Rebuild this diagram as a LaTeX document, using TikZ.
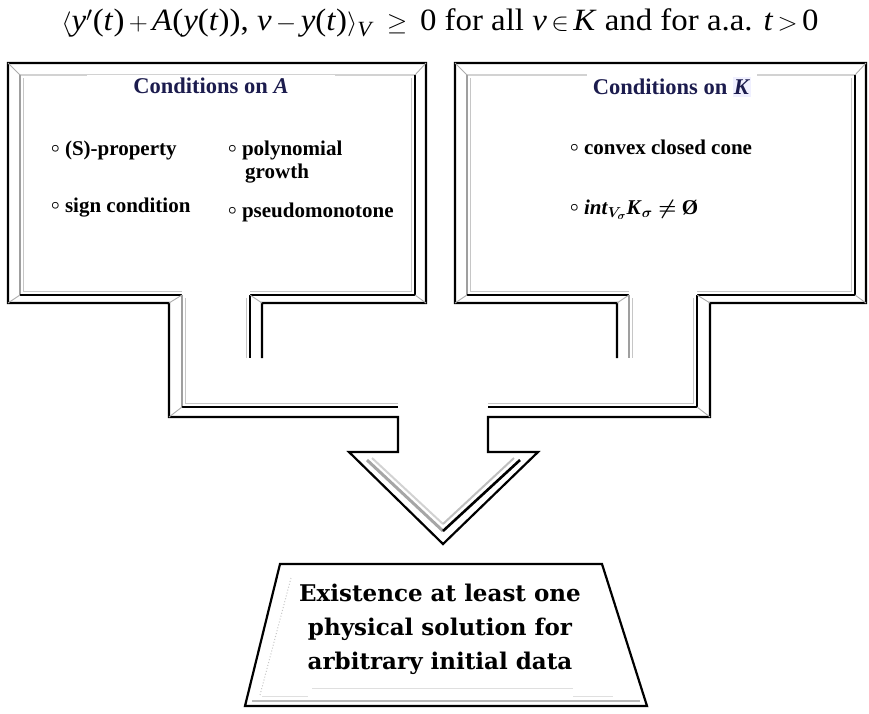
\documentclass[tikz,border=0pt]{standalone}
\usepackage{amsmath}
\usepackage{graphicx}
\usepackage{fontspec}
\setmainfont{Liberation Serif}
\newfontfamily\slabfont{DejaVu Serif}
\definecolor{navy}{RGB}{28,28,78}
\newcommand\mi[1]{\textit{#1}}
\newcommand\bul{\raisebox{0.25ex}{\scalebox{0.72}{$\boldsymbol{\circ}$}}\ }
\begin{document}
\begin{tikzpicture}[x=1pt,y=-1pt,
  outer/.style={line width=2.2pt,black,line join=miter},
  bevlight/.style={gray!35,line width=1.1pt},
  bevmid/.style={gray!75,line width=1.8pt},
  bevsoft/.style={gray!45,line width=1.4pt},
  bevdark/.style={black,line width=2.4pt},
  mitre/.style={gray!65,line width=0.9pt},
  boxtitle/.style={font=\fontsize{22.5}{26}\selectfont\bfseries,text=navy,fill=white,inner ysep=3pt},
  item/.style={font=\fontsize{21}{25}\selectfont\bfseries,anchor=base west,inner sep=0pt},
  result/.style={font=\slabfont\bfseries\fontsize{23}{34}\selectfont,align=center}]
\useasboundingbox (0,0) rectangle (869,713);

% outline of the two frames, their stems and the joint arrow
\draw[outer] (262,358) -- (262,303) -- (426,303) -- (426,63) -- (8,63) -- (8,303)
  -- (169,303) -- (169,417) -- (398,417) -- (398,452) -- (349,452) -- (443,544)
  -- (538,452) -- (488,452) -- (488,417) -- (710,417) -- (710,303) -- (866,303)
  -- (866,63) -- (455,63) -- (455,303) -- (617,303) -- (617,358);

% bevel of the left frame
\draw[bevlight] (20,75) -- (415,75);
\draw[bevmid] (20,75) -- (20,295);
\draw[bevsoft] (23.5,78) -- (23.5,292);
\draw[bevdark] (415,75) -- (415,295);
\draw[bevsoft] (411.5,78) -- (411.5,292);
\draw[bevdark] (20,295) -- (182,295);
\draw[bevdark] (250,295) -- (415,295);
\draw[bevsoft] (23,291.5) -- (182,291.5);
\draw[bevsoft] (250,291.5) -- (412,291.5);
\draw[bevmid] (182,295) -- (182,407);
\draw[bevsoft] (185.5,298) -- (185.5,404);
\draw[bevdark] (250,295) -- (250,358);
\draw[bevsoft] (246.5,298) -- (246.5,358);
\draw[bevdark] (182,407) -- (398,407);
\draw[bevsoft] (185,403.5) -- (398,403.5);
\draw[mitre] (8,63) -- (20,75) (426,63) -- (415,75) (8,303) -- (20,295)
  (426,303) -- (415,295) (169,303) -- (182,295) (262,303) -- (250,295)
  (169,417) -- (182,407);

% bevel of the right frame
\draw[bevlight] (467,75) -- (855,75);
\draw[bevmid] (467,75) -- (467,295);
\draw[bevsoft] (470.5,78) -- (470.5,292);
\draw[bevdark] (855,75) -- (855,295);
\draw[bevsoft] (851.5,78) -- (851.5,292);
\draw[bevdark] (467,295) -- (629,295);
\draw[bevdark] (697,295) -- (855,295);
\draw[bevsoft] (470,291.5) -- (629,291.5);
\draw[bevsoft] (697,291.5) -- (852,291.5);
\draw[bevmid] (629,295) -- (629,358);
\draw[bevsoft] (632.5,298) -- (632.5,358);
\draw[bevdark] (697,295) -- (697,407);
\draw[bevsoft] (693.5,298) -- (693.5,404);
\draw[bevdark] (488,407) -- (697,407);
\draw[bevsoft] (488,403.5) -- (694,403.5);
\draw[mitre] (455,63) -- (467,75) (866,63) -- (855,75) (455,303) -- (467,295)
  (866,303) -- (855,295) (617,303) -- (629,295) (710,303) -- (697,295)
  (710,417) -- (697,407);

% bevel inside the arrow head
\draw[gray!70,line width=3pt] (367,460) -- (443,531);
\draw[gray!35,line width=2pt] (372,458) -- (443,524);
\draw[black,line width=2.6pt] (443,531) -- (520,460);
\draw[gray!50,line width=2pt] (443,524) -- (514,458);

% trapezoid of the conclusion
\draw[outer] (280,564) -- (602,564) -- (647,706) -- (245,706) -- cycle;
\draw[gray!55,line width=1.3pt] (252,701) -- (640,701);
\draw[gray!45,dotted,line width=1pt] (291,578) -- (260,695);
\draw[gray!25,line width=0.8pt] (262,696) -- (308,696) (573,696) -- (613,696)
  (312,688) -- (573,688);

% the inequality
\node[font=\fontsize{31}{35}\selectfont] (ineq) at (440,23)
  {\scalebox{1.06}[1]{$\langle$\mi{y}$'$(\mi{t})$\,+\,$\mi{A}(\mi{y}(\mi{t})), \mi{v}$\,-\,$\mi{y}(\mi{t})$\rangle_{\mi{V}}$\hspace{14pt}$\geq$\hspace{12pt}0 for all \mi{v}$\,\in\,$\mi{K} and for a.a. \mi{t}$\,>\,$0}};

% conditions on A
\node[boxtitle,minimum width=248pt] (titleA) at (211,86) {Conditions on \textit{A}};
\node[item] (sprop) at (51,155) {\bul(S)-property};
\node[item] (poly) at (228,155) {\bul polynomial};
\node[item] (growth) at (245,178) {growth};
\node[item] (sign) at (51,212) {\bul sign condition};
\node[item] (pseudo) at (228,217) {\bul pseudomonotone};

% conditions on K
\node[boxtitle,minimum width=170pt] (titleK) at (672,87)
  {Conditions on \colorbox{blue!6}{\kern-2pt\textit{K}\kern-2pt}};
\node[item] (cone) at (570,154) {\bul convex closed cone};
\node[item] (interior) at (570,214)
  {\bul\textit{int}$_{\boldsymbol{V_{\sigma}}}$\textit{K}$_{\boldsymbol{\sigma}}\boldsymbol{\neq}$ Ø};

% conclusion
\node[result] (exist) at (440,629)
  {Existence at least one\\physical solution for\\arbitrary initial data};
\end{tikzpicture}
\end{document}
